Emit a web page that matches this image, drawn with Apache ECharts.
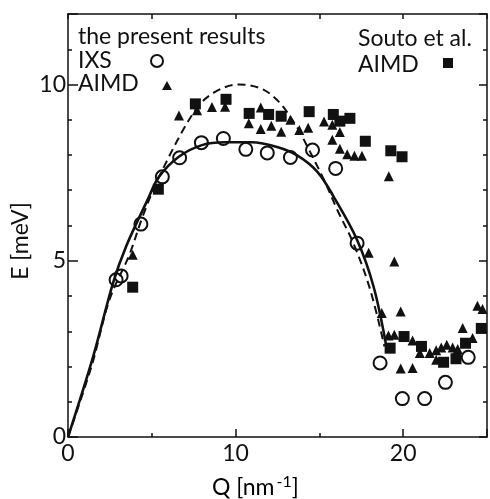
<!DOCTYPE html>
<html>
<head>
<meta charset="utf-8">
<script src="https://cdn.jsdelivr.net/npm/echarts@6/dist/echarts.min.js"></script>
<style>
  html, body { margin: 0; padding: 0; background: #fff; }
  #chart { width: 490px; height: 499px; }
</style>
</head>
<body>
<div id="chart"></div>
<script>
// IXS, the present results  [Q (nm^-1), E (meV)]
var ixs = [
  [2.87, 4.46], [3.17, 4.57], [4.35, 6.04], [5.63, 7.38], [6.66, 7.92],
  [7.96, 8.35], [9.27, 8.47], [10.61, 8.16], [11.89, 8.06], [13.27, 7.93],
  [14.59, 8.14], [15.97, 7.62], [17.25, 5.5], [18.62, 2.1], [19.95, 1.09],
  [21.28, 1.09], [22.52, 1.55], [23.88, 2.26]
];
// AIMD, the present results
var aimd = [
  [3.86, 5.17], [6.62, 9.12], [7.7, 9.27], [8.59, 9.36], [9.37, 9.37],
  [10.79, 8.9], [11.5, 9.35], [11.5, 8.74], [12.13, 8.83], [12.72, 8.66],
  [13.27, 9.0], [13.8, 8.71], [14.33, 8.77], [15.28, 8.95], [15.77, 8.86],
  [16.22, 8.65], [15.77, 8.43], [16.22, 8.18], [16.66, 8.02], [17.09, 7.98],
  [17.54, 7.98], [19.14, 7.4], [17.94, 5.23], [19.47, 4.98], [18.72, 3.52],
  [19.85, 3.56], [19.12, 2.88], [19.47, 2.9], [20.56, 2.74], [20.99, 2.38],
  [21.58, 2.38], [21.97, 2.46], [22.27, 2.54], [22.6, 2.62], [22.95, 2.54],
  [23.25, 2.5], [21.97, 2.19], [19.85, 1.94], [20.56, 1.96], [23.55, 3.09],
  [24.14, 2.81], [24.43, 3.72], [24.73, 3.63]
];
// Souto et al., AIMD
var souto = [
  [3.86, 4.25], [5.39, 7.03], [7.6, 9.45], [9.43, 9.58], [10.81, 9.18],
  [11.97, 9.15], [12.72, 9.1], [14.39, 9.23], [15.83, 9.15], [16.22, 8.96],
  [16.82, 9.04], [17.74, 8.39], [19.26, 8.12], [19.93, 7.95], [19.22, 2.52],
  [20.05, 2.85], [21.09, 2.57], [22.41, 2.12], [23.15, 2.22], [23.72, 2.66],
  [24.66, 3.08]
];
// solid and dashed curves
var solidLine = [
  [0, 0], [1.5, 2.28], [2.68, 4.36], [3.46, 5.4], [4.74, 6.72], [5.43, 7.38],
  [6.61, 7.95], [7.99, 8.28], [9.37, 8.36], [10.94, 8.36], [12.52, 8.22],
  [13.7, 7.98], [14.88, 7.52], [15.87, 6.8], [17.25, 5.59],
  [18.23, 4.27], [18.98, 2.61]
];
var dashedLine = [
  [0, 0], [1.4, 2.0], [2.48, 3.9], [3.66, 5.17], [4.45, 6.25], [5.43, 7.38],
  [7.6, 9.28], [8.78, 9.79], [10.2, 10.0], [11.54, 9.88], [12.6, 9.5],
  [13.7, 8.76], [14.29, 8.23], [15.28, 7.29], [16.07, 6.44], [17.05, 5.47],
  [18.03, 4.18], [18.88, 2.57]
];
var xTicks = [0, 10, 20];
var yTicks = [0, 5, 10];

var font = 'Lato';
var ink = '#111';
var chart = echarts.init(document.getElementById('chart'));

var axisLine = { onZero: false, lineStyle: { color: ink, width: 1.5 } };

chart.setOption({
  animation: false,
  grid: { left: 68, top: 14, width: 423, height: 423 },
  xAxis: [
    {
      type: 'value', min: 0, max: 25, interval: 10, position: 'bottom',
      axisLine: axisLine,
      axisTick: { inside: true, length: 8, lineStyle: { color: ink, width: 1.5 } },
      minorTick: { show: true, splitNumber: 2, length: 4, lineStyle: { color: ink, width: 1.5 } },
      splitLine: { show: false },
      axisLabel: {
        margin: 5, color: ink, fontFamily: font, fontSize: 23,
        formatter: function (v) { return xTicks.indexOf(v) >= 0 ? v : ''; }
      }
    },
    {
      type: 'value', min: 0, max: 25, interval: 5, position: 'top',
      axisLine: axisLine,
      axisTick: { inside: true, length: 5, lineStyle: { color: ink, width: 1.5 } },
      splitLine: { show: false },
      axisLabel: { show: false }
    }
  ],
  yAxis: [
    {
      type: 'value', min: 0, max: 12, interval: 5, position: 'left',
      axisLine: axisLine,
      axisTick: { inside: true, length: 10, lineStyle: { color: ink, width: 1.5 } },
      minorTick: { show: true, splitNumber: 5, length: 4, lineStyle: { color: ink, width: 1.5 } },
      splitLine: { show: false },
      axisLabel: {
        margin: 2, color: ink, fontFamily: font, fontSize: 23,
        formatter: function (v) { return yTicks.indexOf(v) >= 0 ? v : ''; }
      }
    },
    {
      type: 'value', min: 0, max: 12, interval: 5, position: 'right',
      axisLine: axisLine,
      axisTick: { inside: true, length: 8, lineStyle: { color: ink, width: 1.5 } },
      minorTick: { show: true, splitNumber: 5, length: 4, lineStyle: { color: ink, width: 1.5 } },
      splitLine: { show: false },
      axisLabel: { show: false }
    }
  ],
  series: [
    {
      name: 'solid', type: 'line', data: solidLine, smooth: 0.35,
      showSymbol: false, lineStyle: { color: ink, width: 2.6 }, z: 3
    },
    {
      name: 'dashed', type: 'line', data: dashedLine, smooth: 0.35,
      showSymbol: false, lineStyle: { color: ink, width: 2, type: [8, 5] }, z: 3
    },
    {
      name: 'Souto AIMD', type: 'scatter', data: souto, symbol: 'rect', symbolSize: 11,
      itemStyle: { color: ink, opacity: 1 }, z: 4
    },
    {
      name: 'AIMD', type: 'scatter', data: aimd, symbol: 'triangle', symbolSize: 10,
      itemStyle: { color: ink, opacity: 1 }, z: 4
    },
    {
      name: 'IXS', type: 'scatter', data: ixs, symbol: 'circle', symbolSize: 13,
      itemStyle: { color: 'rgba(0,0,0,0)', borderColor: ink, borderWidth: 2, opacity: 1 }, z: 5
    }
  ],
  graphic: [
    { type: 'text', left: 78, top: 25, style: { text: 'the present results', font: '23px Lato', fill: ink } },
    { type: 'text', left: 78, top: 49, style: { text: 'IXS', font: '23px Lato', fill: ink } },
    { type: 'text', left: 78, top: 72, style: { text: 'AIMD', font: '23px Lato', fill: ink } },
    { type: 'text', left: 358, top: 27, style: { text: 'Souto et al.', font: '23px Lato', fill: ink } },
    { type: 'text', left: 358, top: 53, style: { text: 'AIMD', font: '23px Lato', fill: ink } },
    { type: 'circle', shape: { cx: 157, cy: 61, r: 6 }, style: { fill: 'none', stroke: ink, lineWidth: 2 } },
    { type: 'polygon', shape: { points: [[167, 81], [172, 90], [162, 90]] }, style: { fill: ink } },
    { type: 'rect', shape: { x: 443, y: 58, width: 10, height: 10 }, style: { fill: ink } },
    {
      type: 'text', x: 21, y: 241, rotation: Math.PI / 2,
      style: { text: 'E [meV]', font: '23px Lato', fill: ink, align: 'center', verticalAlign: 'middle' }
    },
    {
      type: 'text', left: 212, top: 474,
      style: {
        text: '{a|Q [nm}{s|-1}{a|]}',
        rich: {
          a: { fontFamily: font, fontSize: 23, color: ink, verticalAlign: 'bottom' },
          s: { fontFamily: font, fontSize: 16, color: ink, verticalAlign: 'top', padding: [0, 0, 9, 2] }
        }
      }
    }
  ]
});
</script>
</body>
</html>
